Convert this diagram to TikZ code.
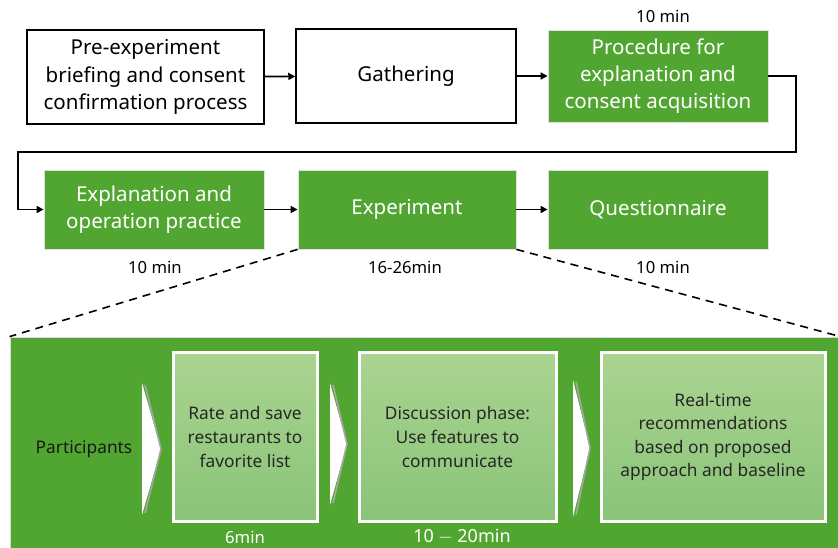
\documentclass[tikz,border=0pt]{standalone}
\usepackage{fontspec}
\setmainfont{Noto Sans}
\usetikzlibrary{arrows.meta}
\definecolor{pgreen}{RGB}{80,166,48}
\definecolor{ltop}{RGB}{170,212,145}
\definecolor{lbot}{RGB}{138,196,120}
\def\PX{0.75pt}
\tikzset{
  box/.style={draw=black, line width=1.5*\PX, align=center, inner sep=0pt, font=\fontsize{15.4}{20.4}\selectfont},
  gbox/.style={fill=pgreen, draw=black!12, line width=0.6pt, align=center, inner sep=0pt, text=white, font=\fontsize{15.4}{20.4}\selectfont},
  ibox/.style={top color=ltop, bottom color=lbot, draw=white, line width=3*\PX, align=center, inner sep=0pt, text=black!85, font=\fontsize{13}{17.7}\selectfont},
  lab/.style={font=\fontsize{12.5}{15}\selectfont},
  arr/.style={-{Triangle[length=7*\PX,width=7*\PX]}, line width=1.6*\PX},
  dsh/.style={dashed, dash pattern=on 8*\PX off 6*\PX, line width=1.6*\PX},
}
\begin{document}
\begin{tikzpicture}[x=0.75pt,y=-0.75pt]
\useasboundingbox (0,0) rectangle (838,548);
% top row
\node[box, minimum width=237*\PX, minimum height=94*\PX] (b1) at (145.5,77) {Pre-experiment\\briefing and consent\\confirmation process};
\node[box, minimum width=220*\PX, minimum height=94*\PX] (b2) at (406,76) {Gathering};
\node[gbox, minimum width=220*\PX, minimum height=92*\PX] (b3) at (658,76) {Procedure for\\explanation and\\consent acquisition};
\node[lab] (t3) at (663,16) {10 min};
% second row
\node[gbox, minimum width=220*\PX, minimum height=79*\PX] (b4) at (154,209.5) {Explanation and\\operation practice};
\node[gbox, minimum width=218*\PX, minimum height=79*\PX] (b5) at (407,209.5) {Experiment};
\node[gbox, minimum width=220*\PX, minimum height=79*\PX] (b6) at (658,209.5) {Questionnaire};
\node[lab] (t4) at (155,267) {10 min};
\node[lab] (t5) at (405,267) {16-26min};
\node[lab] (t6) at (663,267) {10 min};
% connectors
\draw[arr] (b1) -- (b2);
\draw[arr] (b2) -- (b3);
\coordinate (cr) at (796,152);
\coordinate (cl) at (18,152);
\draw[arr] (b3.east) -| (cr) -- (cl) |- (b4.west);
\draw[arr] (b4) -- (b5);
\draw[arr] (b5) -- (b6);
% panel
\node[fill=pgreen, draw=black!15, line width=0.6pt, inner sep=0pt, minimum width=830*\PX, minimum height=212*\PX] (panel) at (425,443) {};
\draw[dsh] (b5.south west) -- (panel.north west);
\draw[dsh] (b5.south east) -- (panel.north east);
\node[font=\fontsize{13}{17.7}\selectfont, text=black!90] (pp) at (84,449) {Participants};
\node[ibox, minimum width=144*\PX, minimum height=168*\PX] (ia) at (245,437) {Rate and save\\restaurants to\\favorite list};
\node[ibox, minimum width=197*\PX, minimum height=168*\PX] (ib) at (457.5,437) {Discussion phase:\\Use features to\\communicate};
\node[ibox, minimum width=224*\PX, minimum height=168*\PX] (ic) at (713,437) {Real-time\\recommendations\\based on proposed\\approach and baseline};
\node[lab, text=white] (ta) at (245,537) {6min};
\node[lab, text=white] (tb) at (462,537) {\fontsize{13.5}{15}\selectfont$\mathbf{10}-\mathbf{20}$min};
% chevrons
\fill[white] (142,383) -- (161,449) -- (142,515) -- cycle;
\draw[black!35, line width=1.2pt] (145,385) -- (161,449) -- (145,513);
\fill[white] (330,383) -- (347,444) -- (330,505) -- cycle;
\draw[black!35, line width=1.2pt] (333,385) -- (347,444) -- (333,503);
\fill[white] (573,380) -- (590,448) -- (573,517) -- cycle;
\draw[black!35, line width=1.2pt] (576,382) -- (590,448) -- (576,515);
\end{tikzpicture}
\end{document}
